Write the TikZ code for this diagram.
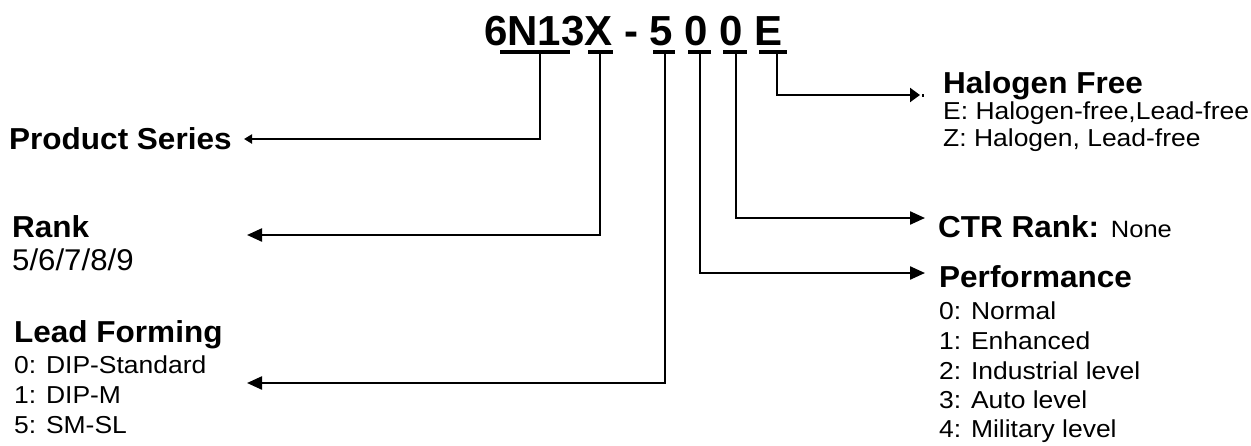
\documentclass[tikz,border=0pt]{standalone}
\usepackage{fontspec}
\setmainfont{Liberation Sans}
\newfontfamily\wideregfont[FakeStretch=1.08]{Liberation Sans}
\newfontfamily\wideboldfont[FakeStretch=1.04]{Liberation Sans}
\usetikzlibrary{arrows.meta}
\tikzset{
  conn/.style={line width=2.3pt, line join=miter},
  ulbar/.style={line width=3.5pt},
  bigtip/.style={-{Triangle[length=15pt,width=13pt]}},
  smalltip/.style={-{Triangle[length=8pt,width=9pt]}},
  head/.style={font=\wideboldfont\bfseries\fontsize{30.3}{36}\selectfont, anchor=base west, inner sep=0pt},
  item/.style={font=\wideregfont\fontsize{24.5}{30}\selectfont, anchor=base west, inner sep=0pt},
  bigitem/.style={font=\wideboldfont\mdseries\fontsize{30}{36}\selectfont, anchor=base west, inner sep=0pt},
  titlefont/.style={font=\bfseries\fontsize{42}{50}\selectfont, anchor=base west, inner sep=0pt}
}
\begin{document}
\begin{tikzpicture}[x=1pt,y=-1pt]
\fill[white] (0,0) rectangle (1251,445);
\useasboundingbox (0,0) rectangle (1251,445);

% title
\node[titlefont] (title) at (484,45) {6N13X - 5 0 0 E};

% underlines
\draw[ulbar] (500,52) -- (570,52);
\draw[ulbar] (588,52) -- (613,52);
\draw[ulbar] (653,52) -- (675,52);
\draw[ulbar] (688,52) -- (711,52);
\draw[ulbar] (723,52) -- (747,52);
\draw[ulbar] (759,52) -- (787,52);

% connector start points
\coordinate (uN) at (540,52);
\coordinate (uX) at (600,52);
\coordinate (u5) at (665,52);
\coordinate (u0a) at (700,52);
\coordinate (u0b) at (736,52);
\coordinate (uE) at (777,52);

% arrow end points
\coordinate (psTip) at (244,139);
\coordinate (rankTip) at (247,235);
\coordinate (lfTip) at (247,383);
\coordinate (perfTip) at (925,273);
\coordinate (ctrTip) at (925,218);
\coordinate (hfTip) at (920,95);

% left labels
\node[head] (ps) at (9,149) {Product Series};
\node[head] (rank) at (12,237) {Rank};
\node[bigitem] (rankv) at (12,270) {5/6/7/8/9};
\node[head] (lf) at (14,342) {Lead Forming};
\node[item] (lf0) at (14,373) {0: DIP-Standard};
\node[item] (lf1) at (14,403) {1: DIP-M};
\node[item] (lf5) at (14,433) {5: SM-SL};

% right labels
\node[head] (hf) at (943,93) {Halogen Free};
\node[item] (hfE) at (943,119) {E: Halogen-free,Lead-free};
\node[item] (hfZ) at (943,146) {Z: Halogen, Lead-free};
\node[head] (ctr) at (938,237) {CTR Rank: {\wideregfont\mdseries\fontsize{23.6}{30}\selectfont None}};
\node[head] (perf) at (939,287) {Performance};
\node[item] (p0) at (939,319) {0: Normal};
\node[item] (p1) at (939,349) {1: Enhanced};
\node[item] (p2) at (939,379) {2: Industrial level};
\node[item] (p3) at (939,408) {3: Auto level};
\node[item] (p4) at (939,437) {4: Military level};

% connectors
\draw[conn, smalltip] (uN) |- (psTip);
\draw[conn, bigtip] (uX) |- (rankTip);
\draw[conn, bigtip] (u5) |- (lfTip);
\draw[conn, bigtip] (u0a) |- (perfTip);
\draw[conn, bigtip] (u0b) |- (ctrTip);
\draw[conn, -{Triangle[length=10pt,width=14pt]}] (uE) |- (hfTip);
\fill (922,93.5) rectangle (924,96.5);
\end{tikzpicture}
\end{document}
